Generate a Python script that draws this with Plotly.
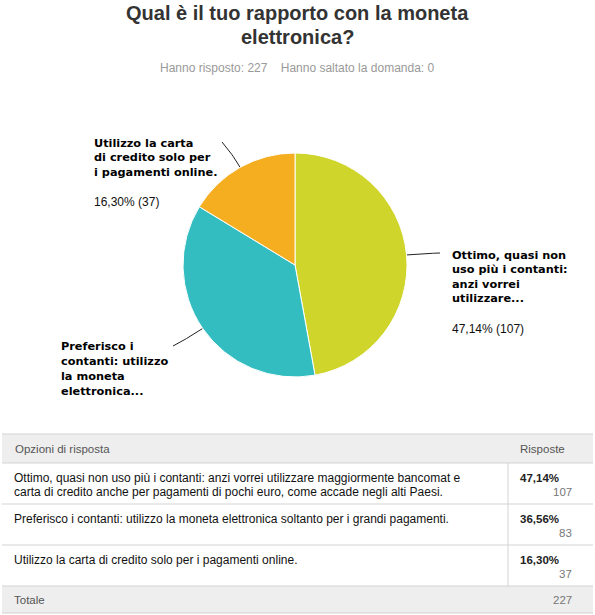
import math
import plotly.graph_objects as go

# ---------------- data ----------------
title_lines = ["Qual è il tuo rapporto con la moneta", "elettronica?"]
answered = 227
skipped = 0
answers = [
    "Ottimo, quasi non uso più i contanti: anzi vorrei utilizzare maggiormente bancomat e carta di credito anche per pagamenti di pochi euro, come accade negli alti Paesi.",
    "Preferisco i contanti: utilizzo la moneta elettronica soltanto per i grandi pagamenti.",
    "Utilizzo la carta di credito solo per i pagamenti online.",
]
table_lines = [
    ["Ottimo, quasi non uso più i contanti: anzi vorrei utilizzare maggiormente bancomat e",
     "carta di credito anche per pagamenti di pochi euro, come accade negli alti Paesi."],
    ["Preferisco i contanti: utilizzo la moneta elettronica soltanto per i grandi pagamenti."],
    ["Utilizzo la carta di credito solo per i pagamenti online."],
]
pie_label_lines = [
    ["Ottimo, quasi non", "uso più i contanti:", "anzi vorrei", "utilizzare..."],
    ["Preferisco i", "contanti: utilizzo", "la moneta", "elettronica..."],
    ["Utilizzo la carta", "di credito solo per", "i pagamenti online."],
]
percents = [47.14, 36.56, 16.30]
counts = [107, 83, 37]
colors = ["#cfd52b", "#33bdc0", "#f6ae21"]

W, H = 595, 615
# pie geometry (pixels)
cx, cy, R = 295, 265, 112

def fmt_pct(p):
    return f"{p:.2f}".replace(".", ",") + "%"

fig = go.Figure()

fig.add_trace(go.Pie(
    labels=answers, values=counts, sort=False, direction="clockwise", rotation=0,
    marker=dict(colors=colors, line=dict(color="white", width=1)),
    textinfo="none", hoverinfo="label+percent", showlegend=False,
    domain=dict(x=[(cx - R) / W, (cx + R) / W], y=[1 - (cy + R) / H, 1 - (cy - R) / H]),
))

# label layout (connector end, text start x, first line y, line step, percent y)
label_layout = [
    dict(end=(440, 253), tx=450, ty=255, step=14.5, py=329),
    dict(end=(173, 346), tx=59, ty=346, step=15, py=None),
    dict(end=(222, 142), tx=92, ty=143, step=14.7, py=202),
]

annotations = []
total = sum(counts)
cum = 0
for i, c in enumerate(counts):
    mid = (cum + c / 2) / total * 2 * math.pi
    cum += c
    dx, dy = math.sin(mid), -math.cos(mid)
    p0 = (cx + R * dx, cy + R * dy)
    p1 = (cx + (R + 14) * dx, cy + (R + 14) * dy)
    p2 = label_layout[i]["end"]
    xs, ys = [], []
    for k in range(21):
        t = k / 20
        xs.append((1 - t) ** 2 * p0[0] + 2 * (1 - t) * t * p1[0] + t ** 2 * p2[0])
        ys.append((1 - t) ** 2 * p0[1] + 2 * (1 - t) * t * p1[1] + t ** 2 * p2[1])
    fig.add_trace(go.Scatter(x=xs, y=ys, mode="lines", line=dict(color="#222", width=1),
                             hoverinfo="skip", showlegend=False))
    L = label_layout[i]
    for j, line in enumerate(pie_label_lines[i]):
        annotations.append(dict(x=L["tx"], y=L["ty"] + j * L["step"], text=f"<b>{line}</b>",
                                xanchor="left", yanchor="middle", showarrow=False,
                                font=dict(family="DejaVu Sans, Verdana", size=11.3, color="#000")))
    if L["py"] is not None:
        annotations.append(dict(x=L["tx"], y=L["py"], text=f"{fmt_pct(percents[i])} ({c})",
                                xanchor="left", yanchor="middle", showarrow=False,
                                font=dict(family="Liberation Sans, Arial", size=12, color="#111")))

# title & subtitle
for j, t in enumerate(title_lines):
    annotations.append(dict(x=W / 2, y=13 + j * 24, text=f"<b>{t}</b>", xanchor="center",
                            yanchor="middle", showarrow=False,
                            font=dict(family="Liberation Sans, Arial", size=20, color="#333")))
annotations.append(dict(x=297, y=68,
                        text=f"Hanno risposto: {answered}&nbsp;&nbsp;&nbsp;&nbsp;Hanno saltato la domanda: {skipped}",
                        xanchor="center", yanchor="middle", showarrow=False,
                        font=dict(family="Liberation Sans, Arial", size=12, color="#999")))

# table
shapes = []
tl, tr, col = 2, 593, 508
grid = "#d3d3d3"
head_top, head_bot = 434, 463
row_tops = [463, 504, 545]
row_bot = 586
tot_bot = 613
shapes.append(dict(type="rect", xref="x", yref="y", x0=tl, x1=tr, y0=head_top, y1=head_bot,
                   fillcolor="#eeeeee", line=dict(width=0), layer="below"))
shapes.append(dict(type="rect", xref="x", yref="y", x0=tl, x1=tr, y0=row_bot, y1=tot_bot,
                   fillcolor="#eeeeee", line=dict(width=0), layer="below"))
for yy in [head_top, head_bot, row_tops[1], row_tops[2], row_bot, tot_bot]:
    shapes.append(dict(type="line", xref="x", yref="y", x0=tl, x1=tr, y0=yy, y1=yy,
                       line=dict(color=grid, width=1)))
shapes.append(dict(type="line", xref="x", yref="y", x0=col, x1=col, y0=head_bot, y1=row_bot,
                   line=dict(color=grid, width=1)))

hdr_font = dict(family="Liberation Sans, Arial", size=11.5, color="#555")
annotations.append(dict(x=13, y=449, text="Opzioni di risposta", xanchor="left", yanchor="middle",
                        showarrow=False, font=hdr_font))
annotations.append(dict(x=518, y=449, text="Risposte", xanchor="left", yanchor="middle",
                        showarrow=False, font=hdr_font))
for i, top in enumerate(row_tops):
    for j, line in enumerate(table_lines[i]):
        annotations.append(dict(x=12, y=top + 15 + j * 13.5, text=line, xanchor="left", yanchor="middle",
                                showarrow=False,
                                font=dict(family="Liberation Sans, Arial", size=12, color="#111")))
    annotations.append(dict(x=518, y=top + 15, text=f"<b>{fmt_pct(percents[i])}</b>", xanchor="left",
                            yanchor="middle", showarrow=False,
                            font=dict(family="Liberation Sans, Arial", size=11.5, color="#222")))
    annotations.append(dict(x=574, y=top + 29, text=str(counts[i]), xanchor="right", yanchor="middle",
                            showarrow=False,
                            font=dict(family="Liberation Sans, Arial", size=11.5, color="#777")))
annotations.append(dict(x=12, y=600, text="Totale", xanchor="left", yanchor="middle",
                        showarrow=False, font=hdr_font))
annotations.append(dict(x=574, y=600, text=str(total), xanchor="right", yanchor="middle",
                        showarrow=False, font=dict(family="Liberation Sans, Arial", size=11.5, color="#777")))

for a in annotations:
    a.setdefault("xref", "x")
    a.setdefault("yref", "y")

fig.update_layout(
    width=W, height=H, margin=dict(l=0, r=0, t=0, b=0),
    paper_bgcolor="white", plot_bgcolor="rgba(0,0,0,0)",
    xaxis=dict(range=[0, W], visible=False, fixedrange=True),
    yaxis=dict(range=[H, 0], visible=False, fixedrange=True),
    annotations=annotations, shapes=shapes, showlegend=False,
)

fig.write_html("out.html")
